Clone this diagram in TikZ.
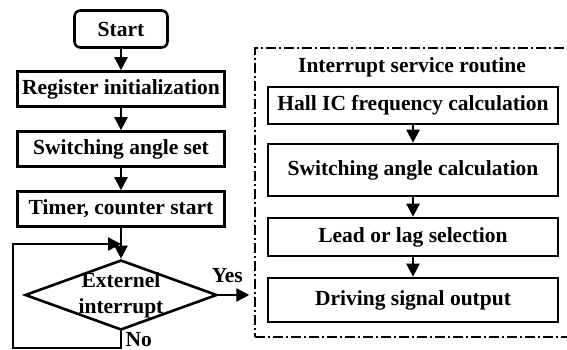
\documentclass[tikz,border=0pt]{standalone}
\usepackage{fontspec}
\setmainfont{Liberation Serif}
\usetikzlibrary{positioning,shapes.geometric,arrows.meta}

\begin{document}
\begin{tikzpicture}[
		x=1pt, y=-1pt,
		node distance=60pt,
		font=\fontsize{21.5}{26}\selectfont\bfseries,
		>={Triangle[width=13pt,length=13pt]},
		box/.style = {draw, line width=2.6pt, inner sep=0pt, minimum height=35pt},
		lbox/.style = {box, minimum width=207pt},
		rbox/.style = {box, minimum width=290pt},
		cond/.style = {draw, diamond, line width=2.6pt, inner sep=0pt, minimum width=192pt, minimum height=70pt},
		group/.style = {draw, line width=1.4pt, dash pattern=on 10pt off 3pt on 2pt off 3pt},
		flow/.style = {->, line width=2.4pt}
	]
	\useasboundingbox (0,0) rectangle (567,350);
	% Main program.
	\node[box, rounded corners=6pt, minimum width=93pt, minimum height=37pt] (start) at (121,29) {Start};
	\node[lbox, below of=start] (reg) {Register initialization};
	\node[lbox, below of=reg] (sw) {Switching angle set};
	\node[lbox, below of=sw] (tim) {Timer, counter start};
	\node[cond, below of=tim, node distance=86pt,
		label={[align=center]center:Externel\\interrupt}] (ext) {};
	% Interrupt service routine.
	\node[group, minimum width=325pt, minimum height=289pt] (isr) at (417.5,192.5) {};
	\node (title) at (412,67) {Interrupt service routine};
	\node[rbox, minimum height=37pt] (hall) at (413,105.5) {Hall IC frequency calculation};
	\node[rbox, minimum height=52pt, below of=hall, node distance=64.5pt] (swc) {Switching angle calculation};
	\node[rbox, minimum height=38pt, below of=swc, node distance=67pt] (lead) {Lead or lag selection};
	\node[rbox, minimum height=44pt, below of=lead, node distance=63pt] (drv) {Driving signal output};

	\coordinate (lb) at (13,348);
	\coordinate (lt) at (13,244);
	\coordinate (join) at (121,244);

	\draw[flow] (start) to (reg);
	\draw[flow] (reg) to (sw);
	\draw[flow] (sw) to (tim);
	\draw[flow] (tim) to (ext);
	\draw[flow] (ext.south) -- node[right] {No} (ext.south |- lb) -- (lb) -- (lt) -- (join);
	\draw[flow, shorten >=5pt] (ext.east) -- node[above, pos=0.25, yshift=8pt] {Yes} (ext.east -| isr.west);
	\draw[flow] (hall) to (swc);
	\draw[flow] (swc) to (lead);
	\draw[flow] (lead) to (drv);
\end{tikzpicture}
\end{document}
